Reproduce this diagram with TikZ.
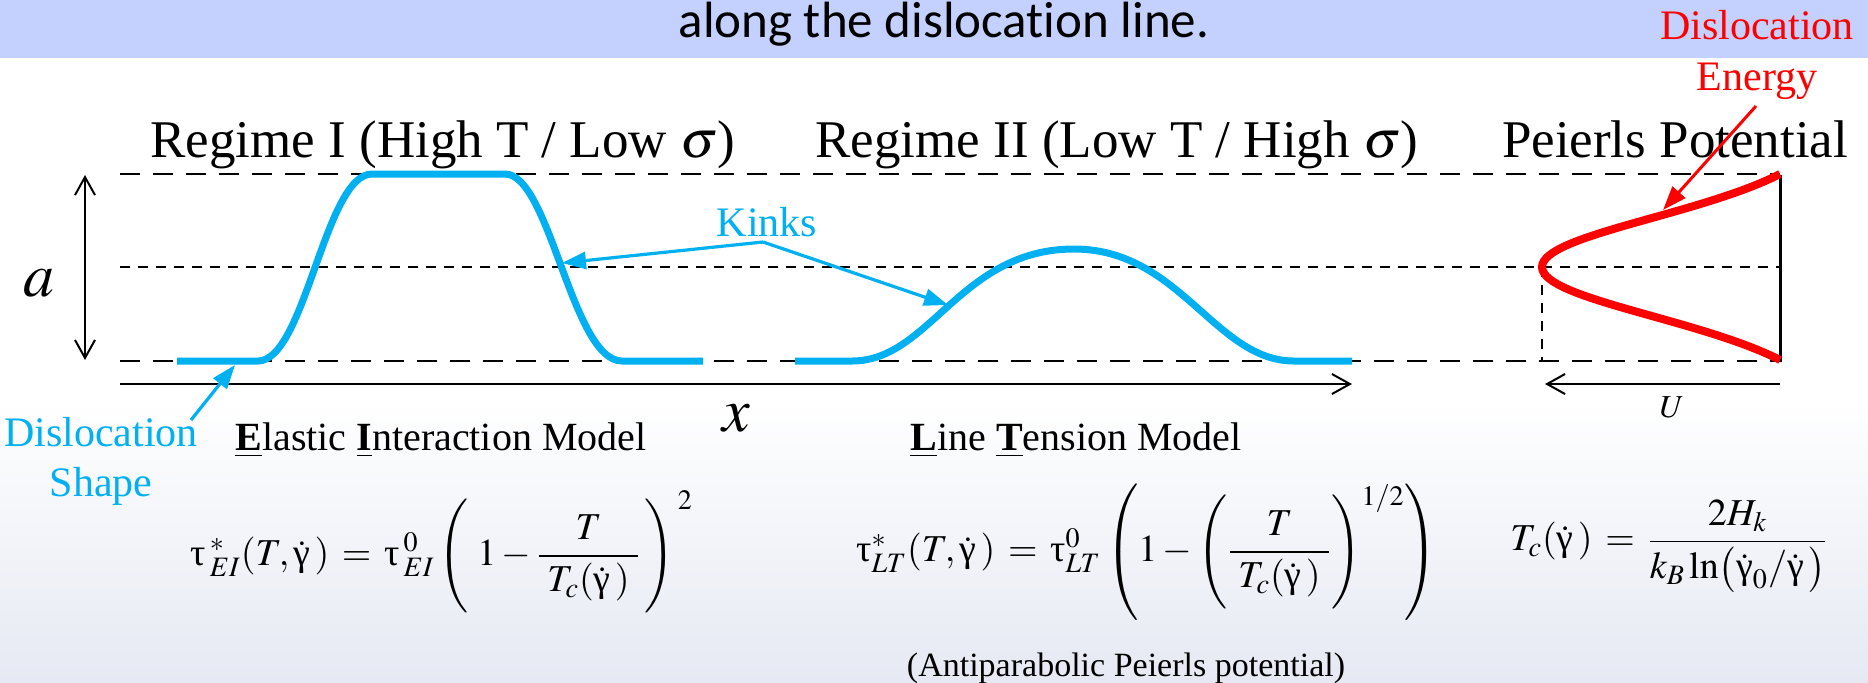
\documentclass[tikz,border=0pt]{standalone}
\usepackage{amsmath}
\usepackage{mathptmx}
\usepackage{fontspec}
\setmainfont{Liberation Serif}
\newfontfamily\bannerfont[Ligatures=NoCommon]{Carlito}
\usetikzlibrary{arrows.meta}

\newcommand{\tauup}{\mbox{τ}}
\newcommand{\gammadot}{\dot{\mbox{γ}}}

\begin{document}
\begin{tikzpicture}[x=0.5pt, y=-0.5pt,
    heading/.style={anchor=base, inner sep=0pt, font=\fontsize{26.5}{32}\selectfont},
    model/.style={anchor=base, inner sep=0pt, font=\fontsize{20}{24}\selectfont},
    callout/.style={inner sep=0pt, font=\fontsize{21}{25}\selectfont},
    equation/.style={anchor=west, inner sep=0pt, font=\fontsize{19}{23}\selectfont},
    guide/.style={line width=1pt, dash pattern=on 10pt off 6.5pt},
    midguide/.style={line width=1pt, dash pattern=on 5pt off 4pt},
    axis/.style={line width=1pt},
    dislocation/.style={line width=3.5pt, draw=kinkColour},
    kinkArrow/.style={line width=1.6pt, draw=kinkColour, fill=kinkColour, -{Triangle[length=12pt, width=8.5pt]}},
    energyArrow/.style={line width=1.5pt, draw=energyColour, fill=energyColour, -{Triangle[length=12pt, width=8.5pt]}}]
    % Define colours
    \definecolor{kinkColour}{HTML}{00B0F0}
    \definecolor{energyColour}{HTML}{FF0000}
    \definecolor{bannerColour}{HTML}{C4D0FD}
    \definecolor{skyColour}{HTML}{E6E9F3}

    % Background and frame
    \fill[bannerColour] (0,0) rectangle (1868,58);
    \shade[top color=white, bottom color=skyColour] (0,400) rectangle (1868,682);
    \useasboundingbox (0,0) rectangle (1868,682);

    % Banner text
    \node[anchor=base, inner sep=0pt, font=\bannerfont\fontsize{25.5}{30}\selectfont] (title) at (944,37) {along the dislocation line.};

    % Guide lines
    \draw[guide] (120,174) -- (1780,174);
    \draw[guide] (120,361) -- (1780,361);
    \draw[midguide] (120,267) -- (1780,267);
    \draw[midguide] (1542,267) -- (1542,361);

    % Headings
    \node[heading] (regimeI) at (443,157) {Regime I (High T / Low $\sigma$)};
    \node[heading] (regimeII) at (1117,157) {Regime II (Low T / High $\sigma$)};
    \node[heading] (peierls) at (1675,157) {Peierls Potential};

    % Axes
    \coordinate (aTop) at (85,175);
    \coordinate (aBottom) at (85,360);
    \draw[axis, {Straight Barb[length=9pt, width=10pt]}-{Straight Barb[length=9pt, width=10pt]}] (aTop) -- (aBottom);
    \node[font=\fontsize{31}{36}\selectfont] (aLabel) at (39,283) {$a$};

    \coordinate (xStart) at (120,384);
    \coordinate (xEnd) at (1352,384);
    \draw[axis, -{Straight Barb[length=9pt, width=10pt]}] (xStart) -- (xEnd);
    \node[font=\fontsize{31}{36}\selectfont] (xLabel) at (736,418) {$x$};

    % Dislocation shapes
    \draw[dislocation] (177,361) -- (258,361) .. controls (305,361) and (325,174) .. (372,174)
        -- (505,174) .. controls (550,174) and (572,361) .. (622,361) -- (703,361);
    \draw[dislocation] (795,361) -- (852,361) .. controls (930,361) and (960,249) .. (1074,249)
        .. controls (1180,249) and (1215,361) .. (1294,361) -- (1352,361);

    % Peierls potential
    \draw[line width=1.5pt] (1780,175) -- (1780,362);
    \draw[line width=4pt, energyColour] (1780,174) .. controls (1700,215) and (1542,235) .. (1542,267)
        .. controls (1542,299) and (1700,319) .. (1780,360);
    \coordinate (uStart) at (1780,384);
    \coordinate (uEnd) at (1545,384);
    \draw[axis, -{Straight Barb[length=9pt, width=10pt]}] (uStart) -- (uEnd);
    \node[font=\fontsize{16}{19}\selectfont] (uLabel) at (1672,407) {$U$};

    % Callouts
    \node[callout, anchor=base, text=kinkColour] (kinks) at (767,236) {Kinks};
    \coordinate (kinkFork) at (763,242);
    \coordinate (kinkI) at (562,263);
    \coordinate (kinkII) at (948,305);
    \draw[kinkArrow] (kinkFork) -- (kinkI);
    \draw[kinkArrow] (kinkFork) -- (kinkII);

    \node[callout, anchor=north, align=center, text=kinkColour] (shapeLabel) at (101,417) {Dislocation\\Shape};
    \coordinate (shapeTail) at (191,420);
    \coordinate (shapeTip) at (235,365);
    \draw[kinkArrow] (shapeTail) -- (shapeTip);

    \node[callout, anchor=north, align=center, text=energyColour, font=\fontsize{21}{25.5}\selectfont] (energyLabel) at (1757,10) {Dislocation\\Energy};
    \coordinate (energyTail) at (1756,106);
    \coordinate (energyTip) at (1663,210);
    \draw[energyArrow] (energyTail) -- (energyTip);

    % Models
    \node[model] (eiModel) at (441,450) {\underline{\textbf{E}}lastic \underline{\textbf{I}}nteraction Model};
    \node[model] (ltModel) at (1076,450) {\underline{\textbf{L}}ine \underline{\textbf{T}}ension Model};

    % Equations
    \node[equation] (eqEI) at (190,552) {$\tauup\,^{*}_{EI}(T,\gammadot\,)\,=\,\tauup\,^{0}_{EI}\left(\rule[-21pt]{0pt}{53pt}\;1-\dfrac{T}{\,\,T_c(\gammadot\,)\,\,}\,\right)^{\,2}$};
    \node[equation] (eqLT) at (856,552) {$\tauup^{*}_{LT}(T,\gammadot\,)\,=\,\tauup^{0}_{LT}\left(\rule[-25pt]{0pt}{63pt}1-\left(\rule[-21pt]{0pt}{53pt}\dfrac{T}{\,\,T_c(\gammadot\,)\,\,}\right)^{1/2}\right)$};
    \node[equation] (eqTc) at (1510,546) {$T_c(\gammadot\,)\,=\,\dfrac{2H_k}{k_B\ln\bigl(\gammadot_0/\gammadot\,\bigr)}$};
    \node[anchor=base, inner sep=0pt, font=\fontsize{17}{21}\selectfont] (antiparabolic) at (1126,676) {(Antiparabolic Peierls potential)};
\end{tikzpicture}
\end{document}
